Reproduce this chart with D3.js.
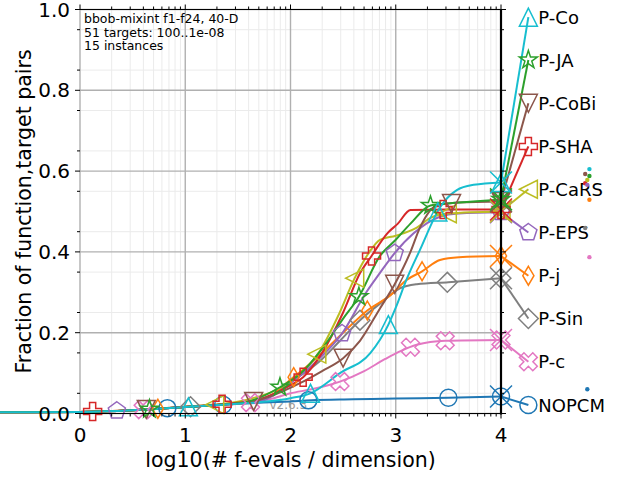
<!DOCTYPE html>
<html><head><meta charset="utf-8">
<script src="https://cdn.jsdelivr.net/npm/d3@7/dist/d3.min.js"></script>
<style>html,body{margin:0;padding:0;background:#fff;}svg{display:block;font-family:"DejaVu Sans",sans-serif;}</style>
</head><body><svg id="c" width="640" height="480"></svg>
<script>
// ---------- data ----------
const names = ["P-Co","P-JA","P-CoBi","P-SHA","P-CaRS","P-EPS","P-j","P-Sin","P-c","NOPCM"];
const colors = ["#17becf","#2ca02c","#8c564b","#d62728","#bcbd22","#9467bd","#ff7f0e","#7f7f7f","#e377c2","#1f77b4"];
const shapes = ["triUp","star","triDown","plus","triLeft","pentagon","thinDiamond","diamond","xFilled","circle"];

const xsCo   = [-0.8,0,0.5,1,1.3,1.7,2.0,2.19,2.47,2.76,2.93,3.0,3.1,3.23,3.42,3.58,3.74,4];
const ysCo   = [0.003,0.004,0.008,0.016,0.021,0.028,0.038,0.05,0.1,0.15,0.22,0.262,0.33,0.405,0.51,0.553,0.566,0.572];
const xsJA   = [-0.8,0,0.5,1,1.3,1.6,1.9,2.1,2.3,2.5,2.65,2.85,3.0,3.14,3.33,3.6,4];
const ysJA   = [0.003,0.004,0.008,0.016,0.021,0.03,0.065,0.1,0.16,0.235,0.289,0.39,0.43,0.47,0.515,0.522,0.53];
const xsCoBi = [-0.8,0,0.5,1,1.3,1.65,2.09,2.3,2.5,2.66,2.85,2.99,3.14,3.23,3.39,3.6,4];
const ysCoBi = [0.003,0.004,0.008,0.016,0.021,0.03,0.075,0.105,0.137,0.18,0.26,0.32,0.40,0.46,0.515,0.522,0.525];
const xsSHA  = [-0.8,0,0.5,1,1.35,1.7,2.0,2.12,2.3,2.5,2.66,2.77,2.92,3.02,3.14,3.5,4];
const ysSHA  = [0.003,0.004,0.008,0.017,0.023,0.035,0.07,0.09,0.15,0.25,0.347,0.39,0.446,0.47,0.504,0.505,0.505];
const xsCaRS = [-0.8,0,0.5,1,1.28,1.6,2.0,2.28,2.45,2.61,2.75,2.85,3.0,3.2,3.33,3.5,4];
const ysCaRS = [0.003,0.004,0.008,0.017,0.022,0.035,0.08,0.155,0.24,0.335,0.40,0.43,0.44,0.46,0.484,0.495,0.5];
const xsEPS  = [-0.8,0,0.5,1,1.3,1.7,2.0,2.25,2.49,2.72,2.85,2.99,3.17,3.42,3.6,4];
const ysEPS  = [0.003,0.004,0.008,0.016,0.021,0.03,0.075,0.13,0.198,0.3,0.348,0.397,0.446,0.487,0.495,0.498];
const xsJ    = [-0.8,0,0.5,1,1.3,1.7,2.03,2.3,2.5,2.73,2.95,3.1,3.25,3.42,3.6,4];
const ysJ    = [0.003,0.004,0.008,0.016,0.021,0.03,0.09,0.15,0.2,0.255,0.293,0.33,0.352,0.38,0.387,0.39];
const xsSin  = [-0.8,0,0.5,1,1.3,1.7,2.0,2.28,2.47,2.66,2.85,3.04,3.2,3.5,4];
const ysSin  = [0.003,0.004,0.008,0.016,0.021,0.03,0.078,0.13,0.18,0.231,0.272,0.31,0.32,0.325,0.335];
const xsC    = [-0.8,0,0.5,1,1.3,1.6,1.8,2.0,2.2,2.47,2.7,2.9,3.05,3.2,3.47,4];
const ysC    = [0.003,0.004,0.008,0.016,0.021,0.026,0.035,0.05,0.06,0.079,0.105,0.135,0.155,0.17,0.18,0.182];
const xsNO   = [-0.8,0,0.5,1,1.5,2,2.2,2.6,3,3.5,4];
const ysNO   = [0.003,0.004,0.008,0.016,0.024,0.03,0.033,0.035,0.037,0.039,0.042];

const markerXs = [
  [1.03,2.19,2.93,3.4,4],
  [0.66,1.9,2.65,3.33,4],
  [0.63,1.65,2.5,2.99,3.53,4],
  [0.12,1.35,2.12,2.77,3.45,4],
  [1.28,2.25,2.61,3.49,4],
  [0.35,2.49,2.99,4],
  [0.74,2.03,2.73,3.25,4],
  [1.05,2.66,3.49,4],
  [0.6,1.62,2.47,3.14,3.47,4],
  [0.83,1.36,2.17,3.5,4]
];
const seriesX = [xsCo,xsJA,xsCoBi,xsSHA,xsCaRS,xsEPS,xsJ,xsSin,xsC,xsNO];
const seriesY = [ysCo,ysJA,ysCoBi,ysSHA,ysCaRS,ysEPS,ysJ,ysSin,ysC,ysNO];

const legendX = 4.26;
const legendY = [0.981,0.875,0.768,0.661,0.555,0.448,0.341,0.235,0.128,0.021];
// small dots at right
const dotX = [4.84,4.84,4.80,4.80,4.82,4.82,4.84,4.80,4.84,4.82];
const dotY = [0.605,0.588,0.593,0.57,0.578,0.566,0.529,0.459,0.387,0.06];

const xTicks = [0,1,2,3,4];
const yTicks = [0,0.2,0.4,0.6,0.8,1.0];
const yTickLabels = ["0.0","0.2","0.4","0.6","0.8","1.0"];
const infoLines = ["bbob-mixint f1-f24, 40-D","51 targets: 100..1e-08","15 instances"];

// ---------- scales ----------
const svg = d3.select("#c");
const x = d3.scaleLinear().domain([0,4]).range([80,501]);
const y = d3.scaleLinear().domain([0,1]).range([413.5,9.5]);
const X0 = x(0), X1 = x(4), Y0 = y(0), Y1 = y(1);

const xMinor = [];
for (let d=0; d<4; d++) for (let k=2;k<=9;k++) xMinor.push(d+Math.log10(k));
const yMinor = d3.range(0.05,1.0,0.1);

// grid
const g = svg.append("g");
g.selectAll(".mx").data(xMinor).join("line").attr("x1",d=>x(d)).attr("x2",d=>x(d)).attr("y1",Y0).attr("y2",Y1).attr("stroke","#ebebeb").attr("stroke-width",1);
g.selectAll(".my").data(yMinor).join("line").attr("y1",d=>y(d)).attr("y2",d=>y(d)).attr("x1",X0).attr("x2",X1).attr("stroke","#ebebeb").attr("stroke-width",1);
g.selectAll(".Mx").data(xTicks).join("line").attr("x1",d=>x(d)).attr("x2",d=>x(d)).attr("y1",Y0).attr("y2",Y1).attr("stroke","#b0b0b0").attr("stroke-width",1.4);
g.selectAll(".My").data(yTicks).join("line").attr("y1",d=>y(d)).attr("y2",d=>y(d)).attr("x1",X0).attr("x2",X1).attr("stroke","#b0b0b0").attr("stroke-width",1.4);

// version text
svg.append("text").attr("x",x(1.8)).attr("y",y(0.012)).attr("font-size",12).attr("fill","#9a9a9a").text("v2.6.3");

// ---------- marker paths ----------
function poly(pts){return "M"+pts.map(p=>p[0].toFixed(2)+","+p[1].toFixed(2)).join("L")+"Z";}
function shapePath(s){
  const r=9;
  switch(s){
    case "circle": return d3.symbol(d3.symbolCircle, Math.PI*8.5*8.5)();
    case "triUp": return poly([[0,-r],[-r,r],[r,r]]);
    case "triDown": return poly([[0,r],[-r,-r],[r,-r]]);
    case "triLeft": return poly([[-r,0],[r,-r],[r,r]]);
    case "pentagon": { const p=[]; for(let i=0;i<5;i++){const a=-Math.PI/2+i*2*Math.PI/5; p.push([r*Math.cos(a),r*Math.sin(a)]);} return poly(p);}
    case "star": { const p=[]; for(let i=0;i<10;i++){const a=-Math.PI/2+i*Math.PI/5; const rr=i%2?r*0.4:r*1.05; p.push([rr*Math.cos(a),rr*Math.sin(a)]);} return poly(p);}
    case "thinDiamond": return poly([[0,-r*1.05],[r*0.62,0],[0,r*1.05],[-r*0.62,0]]);
    case "diamond": return poly([[0,-r*1.1],[r*1.1,0],[0,r*1.1],[-r*1.1,0]]);
    case "plus": { const a=r*0.34, b=r; return poly([[-a,-b],[a,-b],[a,-a],[b,-a],[b,a],[a,a],[a,b],[-a,b],[-a,a],[-b,a],[-b,-a],[-a,-a]]);}
    case "xFilled": { const a=r*0.34, b=r; const pts=[[-a,-b],[a,-b],[a,-a],[b,-a],[b,a],[a,a],[a,b],[-a,b],[-a,a],[-b,a],[-b,-a],[-a,-a]];
      const c=Math.SQRT1_2; return poly(pts.map(p=>[(p[0]-p[1])*c*1.05,(p[0]+p[1])*c*1.05]));}
  }
}
const xThin = "M-11,-11L11,11M-11,11L11,-11";

// ---------- curves ----------
const line = d3.line().x(d=>x(d[0])).y(d=>y(d[1])).curve(d3.curveMonotoneX);
const curves = svg.append("g");
const marks = svg.append("g");
for (let i=names.length-1;i>=0;i--){
  const pts = seriesX[i].map((v,j)=>[v,seriesY[i][j]]);
  curves.append("path").datum(pts).attr("d",line).attr("fill","none").attr("stroke",colors[i]).attr("stroke-width",2);
  const interp = d3.scaleLinear().domain(seriesX[i]).range(seriesY[i]);
  const last = seriesY[i][seriesY[i].length-1];
  curves.append("line").attr("x1",x(4)).attr("y1",y(last)).attr("x2",x(legendX)).attr("y2",y(legendY[i]))
    .attr("stroke",colors[i]).attr("stroke-width",2);
  marks.selectAll(null).data(markerXs[i]).join("path")
    .attr("transform",d=>`translate(${x(d)},${y(interp(d))})`)
    .attr("d",shapePath(shapes[i])).attr("fill","none").attr("stroke",colors[i]).attr("stroke-width",1.5);
  marks.append("path").attr("transform",`translate(${x(4)},${y(last)})`).attr("d",xThin)
    .attr("fill","none").attr("stroke",colors[i]).attr("stroke-width",1.5);
  marks.append("path").attr("transform",`translate(${x(legendX)},${y(legendY[i])})`)
    .attr("d",shapePath(shapes[i])).attr("fill","none").attr("stroke",colors[i]).attr("stroke-width",1.5);
}

// ---------- spines & ticks ----------
const ax = svg.append("g").attr("stroke","#000");
ax.append("line").attr("x1",X0).attr("x2",X1).attr("y1",Y1).attr("y2",Y1).attr("stroke-width",1);
ax.append("line").attr("x1",X0).attr("x2",X1).attr("y1",Y0).attr("y2",Y0).attr("stroke-width",1);
ax.append("line").attr("x1",X1).attr("x2",X1).attr("y1",Y1).attr("y2",Y0+1).attr("stroke-width",2.2);
ax.selectAll(".lt").data(yTicks).join("line").attr("x1",X0-5).attr("x2",X0).attr("y1",d=>y(d)).attr("y2",d=>y(d));
ax.selectAll(".ltm").data(yMinor).join("line").attr("x1",X0-3).attr("x2",X0).attr("y1",d=>y(d)).attr("y2",d=>y(d));
ax.selectAll(".rt").data(yTicks).join("line").attr("x1",X1).attr("x2",X1+5).attr("y1",d=>y(d)).attr("y2",d=>y(d));
ax.selectAll(".rtm").data(yMinor).join("line").attr("x1",X1).attr("x2",X1+3).attr("y1",d=>y(d)).attr("y2",d=>y(d));
ax.selectAll(".bt").data(xTicks).join("line").attr("x1",d=>x(d)).attr("x2",d=>x(d)).attr("y1",Y0).attr("y2",Y0+5);
ax.selectAll(".btm").data(xMinor).join("line").attr("x1",d=>x(d)).attr("x2",d=>x(d)).attr("y1",Y0).attr("y2",Y0+3);
ax.selectAll(".tt").data(xTicks).join("line").attr("x1",d=>x(d)).attr("x2",d=>x(d)).attr("y1",Y1-5).attr("y2",Y1);
ax.selectAll(".ttm").data(xMinor).join("line").attr("x1",d=>x(d)).attr("x2",d=>x(d)).attr("y1",Y1-3).attr("y2",Y1);

// tick labels
svg.selectAll(".yl").data(yTicks).join("text").attr("x",X0-10).attr("y",d=>y(d)+7).attr("text-anchor","end")
  .attr("font-size",20).text((d,i)=>yTickLabels[i]);
svg.selectAll(".xl").data(xTicks).join("text").attr("x",d=>x(d)).attr("y",Y0+28).attr("text-anchor","middle")
  .attr("font-size",20).text(d=>d);

// axis labels
svg.append("text").attr("x",(X0+X1)/2).attr("y",467).attr("text-anchor","middle").attr("font-size",20.5).text("log10(# f-evals / dimension)");
svg.append("text").attr("transform",`translate(31,${(Y0+Y1)/2}) rotate(-90)`).attr("text-anchor","middle").attr("font-size",20.5).text("Fraction of function,target pairs");

// info text
svg.selectAll(".info").data(infoLines).join("text").attr("x",84).attr("y",(d,i)=>23+i*13.6).attr("font-size",12.5).text(d=>d);

// legend text
svg.selectAll(".lg").data(names).join("text").attr("x",x(legendX)+10).attr("y",(d,i)=>y(legendY[i])+6.5)
  .attr("font-size",18).text(d=>d);

// small dots
svg.selectAll(".dt").data(dotX).join("circle").attr("cx",d=>x(d)).attr("cy",(d,i)=>y(dotY[i])).attr("r",2.2)
  .attr("fill",(d,i)=>colors[i]);
</script></body></html>
